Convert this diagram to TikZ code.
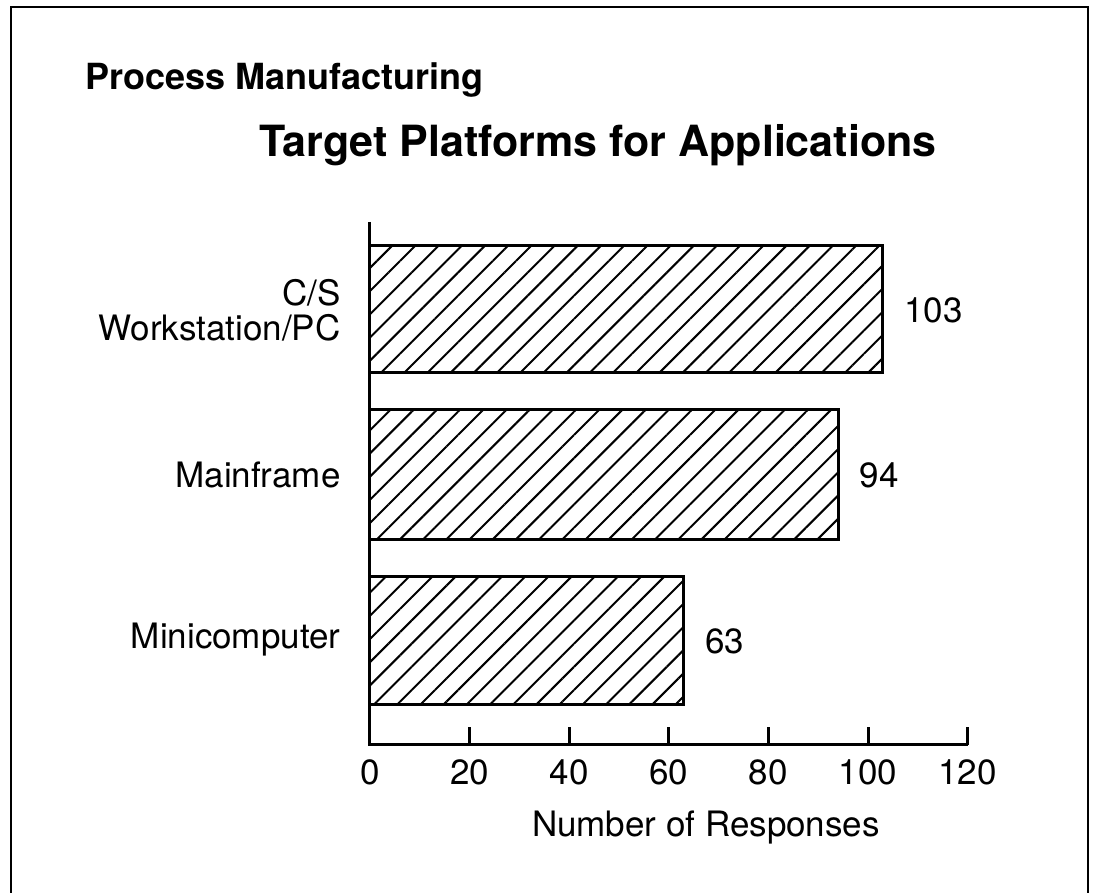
\documentclass[tikz,border=0pt]{standalone}
\usepackage{fontspec}
\setmainfont{TeX Gyre Heros}
\usetikzlibrary{patterns.meta}

\def\sx{4.98}

\begin{document}
\begin{tikzpicture}[x=0.5pt,y=0.5pt,thick,
	balken/.style={draw,line width=1.5pt,pattern={Lines[angle=45,distance=8.2pt,line width=1pt]}},
	beschr/.style={font=\fontsize{17.5}{17.5}\selectfont}]
\useasboundingbox (-370,-148) rectangle (724,745);

% Rahmen
\draw[line width=1pt] (-359,-148) -- (-359,738) -- (718,738) -- (718,-148);

\node[anchor=west,font=\bfseries\fontsize{18}{21}\selectfont] (bereich) at (-292,665) {Process Manufacturing};
\node[font=\bfseries\fontsize{21.5}{25}\selectfont] (titel) at (228,600) {Target Platforms for Applications};

% Balken
\draw[balken] (0,372) rectangle ({103*\sx},499);
\draw[balken] (0,205) rectangle ({94*\sx},335);
\draw[balken] (0,40) rectangle ({63*\sx},168);

\node[beschr,anchor=west] (w103) at ({103*\sx+14},435) {103};
\node[beschr,anchor=west] (w94) at ({94*\sx+14},270) {94};
\node[beschr,anchor=west] (w63) at ({63*\sx+14},104) {63};

\node[beschr,anchor=east,align=right] (cs) at (-22,435) {C/S\\Workstation/PC};
\node[beschr,anchor=east] (mainframe) at (-22,270) {Mainframe};
\node[beschr,anchor=east] (mini) at (-22,105) {Minicomputer};

% Achsen
\draw[line width=1.5pt] (0,523) -- (0,0) -- ({120*\sx},0);
\foreach \x in {20,40,...,120}{
	\draw[line width=1.5pt] ({\x*\sx},0) -- ({\x*\sx},18);
}
\foreach \x in {0,20,...,120}{
	\node[beschr] (t\x) at ({\x*\sx},-27) {\x};
}
\node[beschr] (achse) at (336,-83) {Number of Responses};

\end{tikzpicture}
\end{document}
